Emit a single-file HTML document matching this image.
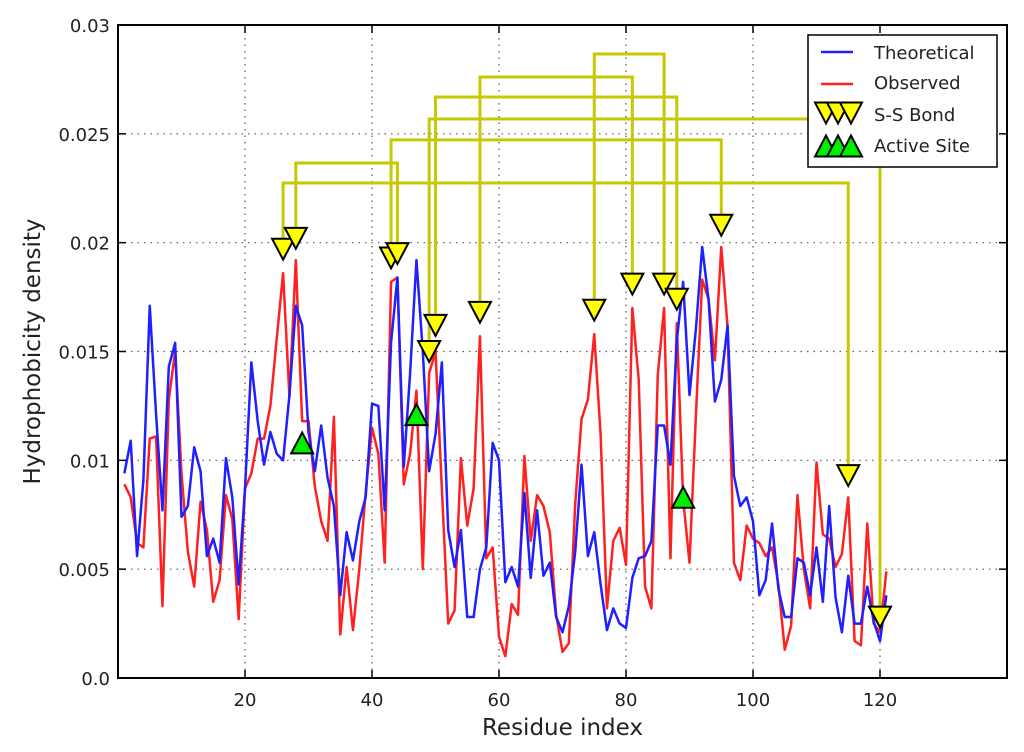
<!DOCTYPE html>
<html><head><meta charset="utf-8"><style>
html,body{margin:0;padding:0;background:#fff;width:1024px;height:752px;overflow:hidden}
svg{display:block;font-family:"DejaVu Sans","Liberation Sans",sans-serif}
</style></head><body>
<svg id="chart" width="1024" height="752" viewBox="0 0 1024 752"></svg>
<script>
const residues = Array.from({length:121},(_,i)=>i+1);
const theoretical = [0.0094,0.0109,0.0056,0.0091,0.0171,0.0121,0.0077,0.0143,0.0154,0.0074,0.0079,0.0106,0.0095,0.0056,0.0064,0.0053,0.0101,0.0083,0.0043,0.0087,
0.0145,0.0118,0.0098,0.0113,0.0103,0.0100,0.0130,0.0171,0.0162,0.0113,0.0095,0.0116,0.0092,0.0079,0.0038,0.0067,0.0054,0.0072,0.0083,0.0126,
0.0125,0.0077,0.0154,0.0184,0.0097,0.0140,0.0192,0.0150,0.0095,0.0112,0.0145,0.0068,0.0051,0.0068,0.0028,0.0028,0.0050,0.0060,0.0108,0.0100,
0.0044,0.0051,0.0042,0.0085,0.0046,0.0077,0.0047,0.0053,0.0028,0.0021,0.0033,0.0058,0.0098,0.0056,0.0067,0.0043,0.0022,0.0032,0.0025,0.0023,
0.0046,0.0055,0.0056,0.0063,0.0116,0.0116,0.0098,0.0155,0.0182,0.0130,0.0160,0.0198,0.0174,0.0127,0.0137,0.0162,0.0093,0.0079,0.0083,0.0072,
0.0038,0.0045,0.0071,0.0041,0.0028,0.0028,0.0055,0.0053,0.0038,0.0060,0.0035,0.0079,0.0037,0.0021,0.0047,0.0025,0.0025,0.0042,0.0026,0.0017,0.0038];
const observed = [0.0089,0.0083,0.0062,0.0060,0.0110,0.0111,0.0033,0.0128,0.0150,0.0094,0.0058,0.0042,0.0081,0.0068,0.0035,0.0045,0.0084,0.0073,0.0027,0.0087,
0.0094,0.0110,0.0110,0.0125,0.0156,0.0186,0.0129,0.0192,0.0118,0.0118,0.0088,0.0072,0.0063,0.0120,0.0020,0.0051,0.0022,0.0050,0.0085,0.0115,
0.0103,0.0053,0.0182,0.0184,0.0089,0.0103,0.0132,0.0050,0.0140,0.0150,0.0087,0.0025,0.0031,0.0101,0.0070,0.0087,0.0157,0.0055,0.0060,0.0019,
0.0010,0.0034,0.0029,0.0102,0.0063,0.0084,0.0079,0.0067,0.0029,0.0012,0.0016,0.0080,0.0119,0.0128,0.0158,0.0112,0.0032,0.0063,0.0069,0.0052,
0.0170,0.0137,0.0042,0.0032,0.0139,0.0170,0.0055,0.0163,0.0082,0.0053,0.0120,0.0183,0.0174,0.0146,0.0198,0.0161,0.0053,0.0045,0.0070,0.0064,
0.0062,0.0056,0.0060,0.0043,0.0013,0.0024,0.0084,0.0050,0.0032,0.0099,0.0066,0.0064,0.0051,0.0057,0.0083,0.0017,0.0015,0.0071,0.0025,0.0021,0.0049];
const ssResidues = [26,28,43,44,49,50,57,75,81,86,88,95,115,120];
const ssValues = [0.0197,0.0202,0.0193,0.0195,0.0150,0.0162,0.0168,0.0169,0.0181,0.0181,0.0174,0.0208,0.0093,0.0028];
const bondA = [75,57,50,49,43,28,26];
const bondB = [86,81,88,120,95,44,115];
const bondLevel = [0.02867,0.02761,0.02669,0.02568,0.02472,0.02366,0.02274];
const activeResidues = [29,47,89];
const activeValues = [0.0108,0.0121,0.0083];
const xTicks = [20,40,60,80,100,120];
const yTicks = [0,0.005,0.01,0.015,0.02,0.025,0.03];
const yTickLabels = ["0.0","0.005","0.01","0.015","0.02","0.025","0.03"];

const L=118,R=1007,T=25,B=678, XMIN=0,XMAX=140,YMIN=0,YMAX=0.03;
const X=v=>L+(v-XMIN)/(XMAX-XMIN)*(R-L);
const Y=v=>B-(v-YMIN)/(YMAX-YMIN)*(B-T);
const NS="http://www.w3.org/2000/svg";
const svg=document.getElementById('chart');
function mk(tag,attrs,parent){const e=document.createElementNS(NS,tag);for(const k in attrs)e.setAttribute(k,attrs[k]);(parent||svg).appendChild(e);return e;}

// grid
const grid=mk('g',{});


xTicks.forEach(t=>{const l=mk('line',{x1:X(t),x2:X(t),y1:T,y2:B,stroke:'#555','stroke-width':1.2,'stroke-dasharray':'1.5,5'},grid);

});
yTicks.forEach(t=>{const l=mk('line',{x1:L,x2:R,y1:Y(t),y2:Y(t),stroke:'#555','stroke-width':1.2,'stroke-dasharray':'1.5,5'},grid);

});

// bonds
const bonds=mk('g',{fill:'none',stroke:'#c8c800','stroke-width':3,'stroke-linejoin':'miter'});


bondA.forEach((a,i)=>{
  const b=bondB[i];
  const ya=ssValues[ssResidues.indexOf(a)], yb=ssValues[ssResidues.indexOf(b)];
  const p=mk('polyline',{points:`${X(a)},${Y(ya)} ${X(a)},${Y(bondLevel[i])} ${X(b)},${Y(bondLevel[i])} ${X(b)},${Y(yb)}`},bonds);
  
  
});

// series
function line(vals,color,name){
  const p=mk('polyline',{points:residues.map((r,i)=>`${X(r)},${Y(vals[i])}`).join(' '),fill:'none',stroke:color,'stroke-width':2.5,'stroke-linejoin':'round'});
  
  
}
line(observed,'#ff2020','observed-line');
line(theoretical,'#2020ff','theoretical-line');

function tri(x,y,down,fill,parent){
  const s=11;
  const pts=down?`${x-s},${y-s*0.95} ${x+s},${y-s*0.95} ${x},${y+s*0.95}`:`${x-s},${y+s*0.95} ${x+s},${y+s*0.95} ${x},${y-s*0.95}`;
  return mk('polygon',{points:pts,fill:fill,stroke:'#000','stroke-width':2,'stroke-linejoin':'miter'},parent);
}
ssResidues.forEach((r,i)=>{const t=tri(X(r),Y(ssValues[i]),true,'#ffff00');

});
activeResidues.forEach((r,i)=>{const t=tri(X(r),Y(activeValues[i]),false,'#00ee00');

});

// frame + ticks
const fr=mk('rect',{x:L,y:T,width:R-L,height:B-T,fill:'none',stroke:'#000','stroke-width':2});


xTicks.forEach(t=>{
  mk('line',{x1:X(t),x2:X(t),y1:B,y2:B-8,stroke:'#000','stroke-width':1.5});
  mk('line',{x1:X(t),x2:X(t),y1:T,y2:T+8,stroke:'#000','stroke-width':1.5});
  const tx=mk('text',{x:X(t),y:B+28,'font-size':18,'text-anchor':'middle',fill:'#222'});tx.textContent=t;
  
  
});
yTicks.forEach((t,i)=>{
  mk('line',{x1:L,x2:L+8,y1:Y(t),y2:Y(t),stroke:'#000','stroke-width':1.5});
  mk('line',{x1:R,x2:R-8,y1:Y(t),y2:Y(t),stroke:'#000','stroke-width':1.5});
  const tx=mk('text',{x:L-8,y:Y(t)+7,'font-size':18,'text-anchor':'end',fill:'#222'});tx.textContent=yTickLabels[i];
  
  
});
const xt=mk('text',{x:(L+R)/2,y:735,'font-size':23,'text-anchor':'middle',fill:'#222'});xt.textContent='Residue index';


const yt=mk('text',{x:0,y:0,'font-size':23,'text-anchor':'middle',fill:'#222',transform:`translate(40,${(T+B)/2}) rotate(-90)`});yt.textContent='Hydrophobicity density';



// legend
const lg=mk('g',{});


mk('rect',{x:808,y:35,width:189,height:132,fill:'#fff',stroke:'#000','stroke-width':1.5},lg);
const entries=[['Theoretical',52],['Observed',82],['S-S Bond',114],['Active Site',145]];
mk('line',{x1:821,x2:853,y1:52,y2:52,stroke:'#2020ff','stroke-width':2.5},lg);
mk('line',{x1:821,x2:853,y1:84,y2:84,stroke:'#ff2020','stroke-width':2.5},lg);
[826,838,851].forEach(x=>{tri(x,113,true,'#ffff00',lg);});
[826,838,851].forEach(x=>{tri(x,146,false,'#00ee00',lg);});
entries.forEach(([t,y])=>{const tx=mk('text',{x:874,y:y+7,'font-size':18,fill:'#222'},lg);tx.textContent=t;

});
</script>
</body></html>
